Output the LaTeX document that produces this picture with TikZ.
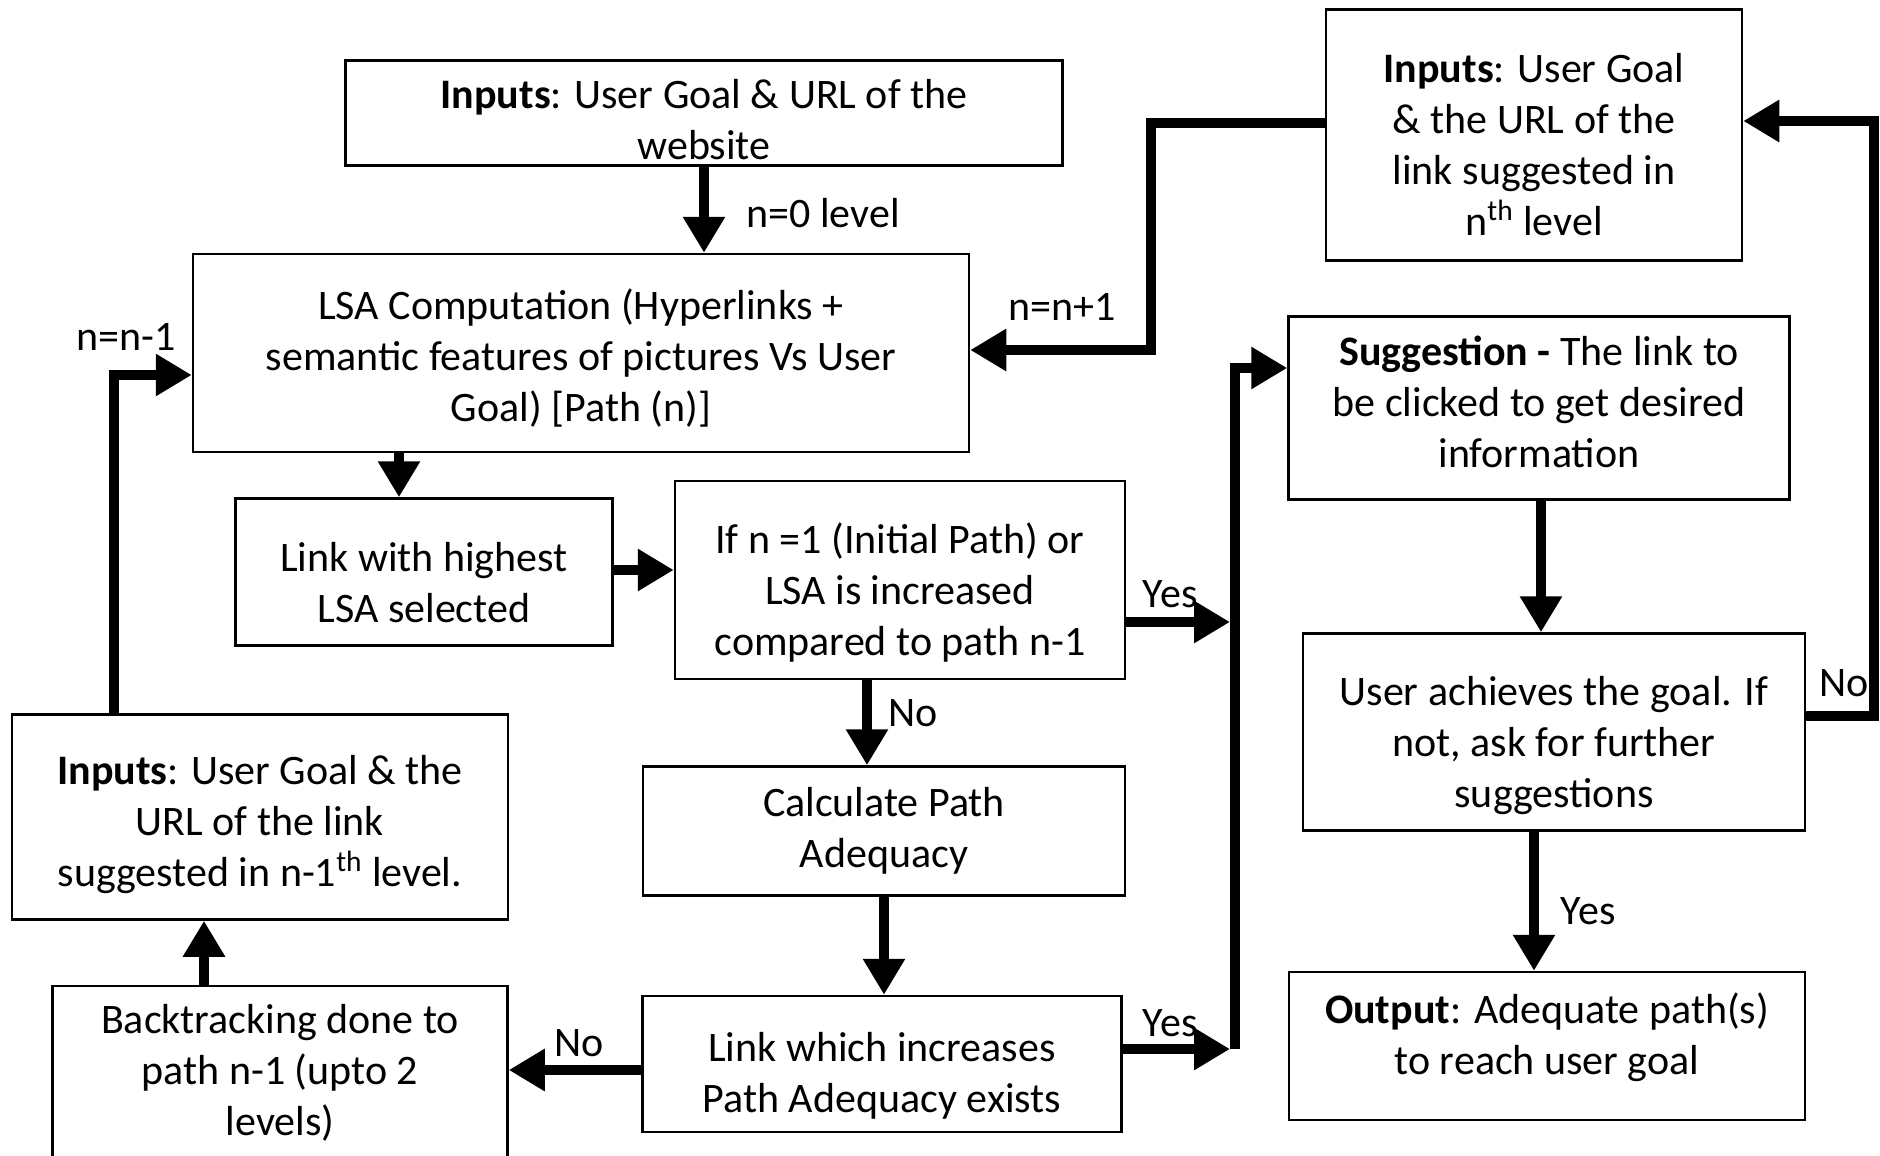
\documentclass[tikz,border=0pt]{standalone}
\usepackage{fontspec}
\setmainfont{Carlito}
\usetikzlibrary{arrows.meta}
\begin{document}
\begin{tikzpicture}[x=0.5pt,y=-0.5pt,
 txt/.style={font=\fontsize{21}{25.5}\selectfont},
 box/.style={draw, line width=1.25pt, inner sep=0pt},
 sz/.style 2 args={minimum width=#1*0.5pt, minimum height=#2*0.5pt},
 conn/.style={line width=5pt, -{Triangle[length=18pt,width=20pt]}},
 btxt/.style={inner sep=0pt, align=center, txt},
 lbl/.style={inner sep=0pt, txt}]
\useasboundingbox (0,0) rectangle (1880,1156);
% boxes
\node[box, sz={717}{105}] (A) at (704,113) {};
\node[btxt, yshift=-3.5pt] (At) at (A.center) {\textbf{Inputs}: User Goal \& URL of the\\website};
\node[box, sz={776}{198}] (B) at (581,353) {};
\node[btxt, yshift=-2.5pt] (Bt) at (B.center) {LSA Computation (Hyperlinks +\\semantic features of pictures Vs User\\Goal) [Path (n)]};
\node[box, sz={377}{147}] (C) at (424,572) {};
\node[btxt, yshift=-5.5pt] (Ct) at (C.center) {Link with highest\\LSA selected};
\node[box, sz={450}{198}] (D) at (900,580) {};
\node[btxt, yshift=-6.5pt] (Dt) at (D.center) {If n =1 (Initial Path) or\\LSA is increased\\compared to path n-1};
\node[box, sz={482}{129}] (E) at (884,831) {};
\node[btxt] (Et) at (E.center) {Calculate Path\\Adequacy};
\node[box, sz={479}{136}] (F) at (882,1064) {};
\node[btxt, yshift=-6pt] (Ft) at (F.center) {Link which increases\\Path Adequacy exists};
\node[box, sz={455}{174}] (G) at (280,1073) {};
\node[btxt] (Gt) at (G.center) {Backtracking done to\\path n-1 (upto 2\\levels)};
\node[box, sz={496}{205}] (H) at (260,817) {};
\node[btxt, yshift=-4pt] (Ht) at (H.center) {\textbf{Inputs}: User Goal \& the\\URL of the link\\suggested in n-1\textsuperscript{th} level.};
\node[box, sz={416}{251}] (I) at (1534,135) {};
\node[btxt, yshift=-5pt] (It) at (I.center) {\textbf{Inputs}: User Goal\\\& the URL of the\\link suggested in\\n\textsuperscript{th} level};
\node[box, sz={501}{183}] (J) at (1539,408) {};
\node[btxt, yshift=3pt] (Jt) at (J.center) {\textbf{Suggestion -} The link to\\be clicked to get desired\\information};
\node[box, sz={502}{197}] (K) at (1554,732) {};
\node[btxt, yshift=-7pt] (Kt) at (K.center) {User achieves the goal. If\\not, ask for further\\suggestions};
\node[box, sz={516}{148}] (L) at (1547,1046) {};
\node[btxt, yshift=4.5pt] (Lt) at (L.center) {\textbf{Output}: Adequate path(s)\\to reach user goal};
% helper coordinates
\coordinate (bus1) at (1230,622);
\coordinate (bus2) at (1230,1049);
\coordinate (busc) at (1235,1049);
\coordinate (rc) at (1874,121);
\coordinate (ic) at (1151,350);
% connectors
\draw[conn] (A.south) -- (A.south |- B.north);
\draw[conn] (B.south -| 399,0) -- (C.north -| 399,0);
\draw[conn] (C.east |- 0,570) -- (D.west |- 0,570);
\draw[conn] (D.south -| 867,0) -- (E.north -| 867,0);
\draw[conn] (E.south) -- (F.north -| E.south);
\draw[conn] (F.west |- 0,1070) -- (G.east |- 0,1070);
\draw[conn] (G.north -| 204,0) -- (H.south -| 204,0);
\draw[conn] (H.north -| 114,0) |- (B.west |- 0,375);
\draw[conn] (D.east |- bus1) -- (bus1);
\draw[conn] (F.east |- bus2) -- (bus2);
\draw[conn] (busc) |- (J.west |- 0,368);
\draw[conn] (J.south -| 1541,0) -- (K.north -| 1541,0);
\draw[conn] (K.south -| 1534,0) -- (L.north -| 1534,0);
\draw[conn] (K.east |- 0,716) -| (rc) -- (I.east |- rc);
\draw[conn] (I.west |- 0,123) -| (ic) -- (B.east |- ic);
% labels
\node[lbl, anchor=west] (l0) at (746,213) {n=0 level};
\node[lbl, anchor=west] (l1) at (888,713) {No};
\node[lbl] (l2) at (579,1043) {No};
\node[lbl] (l3) at (126,337) {n=n-1};
\node[lbl] (l4) at (1170,594) {Yes};
\node[lbl] (l5) at (1170,1023) {Yes};
\node[lbl] (l6) at (1588,911) {Yes};
\node[lbl] (l7) at (1844,683) {No};
\node[lbl] (l8) at (1062,307) {n=n+1};
\end{tikzpicture}
\end{document}
